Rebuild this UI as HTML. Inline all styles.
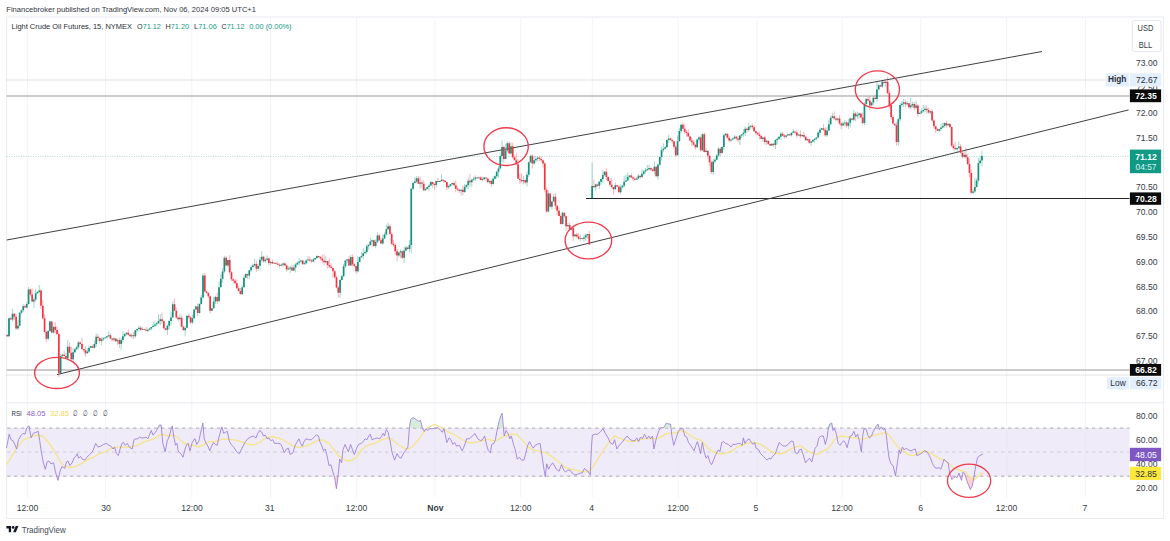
<!DOCTYPE html>
<html lang="en"><head><meta charset="utf-8"><title>Light Crude Oil Futures</title>
<style>html,body{margin:0;padding:0;background:#fff}body{width:1170px;height:541px;overflow:hidden}svg{display:block}</style>
</head><body>
<svg width="1170" height="541" viewBox="0 0 1170 541" font-family='"Liberation Sans", Arial, sans-serif'>
<rect width="1170" height="541" fill="#fff"/>
<text x="6.3" y="12.2" font-size="7.6" fill="#2f333d" textLength="249.7" lengthAdjust="spacingAndGlyphs">Financebroker published on TradingView.com, Nov 06, 2024 09:05 UTC+1</text>
<rect x="6.6" y="17.0" width="1156.9" height="501.5" fill="#fff" stroke="#e9ecf4" stroke-width="1"/>
<line x1="27.7" y1="17.5" x2="27.7" y2="497.5" stroke="#f3f3f6" stroke-width="1"/>
<line x1="105.6" y1="17.5" x2="105.6" y2="497.5" stroke="#f3f3f6" stroke-width="1"/>
<line x1="191.8" y1="17.5" x2="191.8" y2="497.5" stroke="#f3f3f6" stroke-width="1"/>
<line x1="270.5" y1="17.5" x2="270.5" y2="497.5" stroke="#f3f3f6" stroke-width="1"/>
<line x1="356.7" y1="17.5" x2="356.7" y2="497.5" stroke="#f3f3f6" stroke-width="1"/>
<line x1="434.9" y1="17.5" x2="434.9" y2="497.5" stroke="#f3f3f6" stroke-width="1"/>
<line x1="520.8" y1="17.5" x2="520.8" y2="497.5" stroke="#f3f3f6" stroke-width="1"/>
<line x1="592.3" y1="17.5" x2="592.3" y2="497.5" stroke="#f3f3f6" stroke-width="1"/>
<line x1="678.2" y1="17.5" x2="678.2" y2="497.5" stroke="#f3f3f6" stroke-width="1"/>
<line x1="756.9" y1="17.5" x2="756.9" y2="497.5" stroke="#f3f3f6" stroke-width="1"/>
<line x1="842.1" y1="17.5" x2="842.1" y2="497.5" stroke="#f3f3f6" stroke-width="1"/>
<line x1="920.8" y1="17.5" x2="920.8" y2="497.5" stroke="#f3f3f6" stroke-width="1"/>
<line x1="1006.7" y1="17.5" x2="1006.7" y2="497.5" stroke="#f3f3f6" stroke-width="1"/>
<line x1="1085.4" y1="17.5" x2="1085.4" y2="497.5" stroke="#f3f3f6" stroke-width="1"/>
<line x1="6.6" y1="402.8" x2="1163.5" y2="402.8" stroke="#e6e9f0" stroke-width="1"/>
<rect x="7.1" y="428.1" width="1122.4" height="48.2" fill="#efebf9"/>
<line x1="7.1" y1="428.1" x2="1129.5" y2="428.1" stroke="#8b8e97" stroke-opacity="1" stroke-width="0.75" stroke-dasharray="3.2 3.8"/>
<line x1="7.1" y1="452.1" x2="1129.5" y2="452.1" stroke="#8b8e97" stroke-opacity="0.45" stroke-width="0.75" stroke-dasharray="3.2 3.8"/>
<line x1="7.1" y1="476.2" x2="1129.5" y2="476.2" stroke="#8b8e97" stroke-opacity="1" stroke-width="0.75" stroke-dasharray="3.2 3.8"/>
<line x1="27.7" y1="428.1" x2="27.7" y2="476.2" stroke="#ebe8f4" stroke-width="1"/>
<line x1="105.6" y1="428.1" x2="105.6" y2="476.2" stroke="#ebe8f4" stroke-width="1"/>
<line x1="191.8" y1="428.1" x2="191.8" y2="476.2" stroke="#ebe8f4" stroke-width="1"/>
<line x1="270.5" y1="428.1" x2="270.5" y2="476.2" stroke="#ebe8f4" stroke-width="1"/>
<line x1="356.7" y1="428.1" x2="356.7" y2="476.2" stroke="#ebe8f4" stroke-width="1"/>
<line x1="434.9" y1="428.1" x2="434.9" y2="476.2" stroke="#ebe8f4" stroke-width="1"/>
<line x1="520.8" y1="428.1" x2="520.8" y2="476.2" stroke="#ebe8f4" stroke-width="1"/>
<line x1="592.3" y1="428.1" x2="592.3" y2="476.2" stroke="#ebe8f4" stroke-width="1"/>
<line x1="678.2" y1="428.1" x2="678.2" y2="476.2" stroke="#ebe8f4" stroke-width="1"/>
<line x1="756.9" y1="428.1" x2="756.9" y2="476.2" stroke="#ebe8f4" stroke-width="1"/>
<line x1="842.1" y1="428.1" x2="842.1" y2="476.2" stroke="#ebe8f4" stroke-width="1"/>
<line x1="920.8" y1="428.1" x2="920.8" y2="476.2" stroke="#ebe8f4" stroke-width="1"/>
<line x1="1006.7" y1="428.1" x2="1006.7" y2="476.2" stroke="#ebe8f4" stroke-width="1"/>
<line x1="1085.4" y1="428.1" x2="1085.4" y2="476.2" stroke="#ebe8f4" stroke-width="1"/>
<line x1="6.6" y1="80" x2="1129.5" y2="80" stroke="#b9bbc2" stroke-width="0.8" stroke-dasharray="1 1"/>
<line x1="6.6" y1="375" x2="1129.5" y2="375" stroke="#b9bbc2" stroke-width="0.8" stroke-dasharray="1 1"/>
<line x1="6.6" y1="156.5" x2="1129.5" y2="156.5" stroke="#b4e0d9" stroke-width="1" stroke-dasharray="1 1.4"/>
<line x1="6.6" y1="95.9" x2="1129.5" y2="95.9" stroke="#cbcbcc" stroke-width="2"/>
<line x1="6.6" y1="369.9" x2="1129.5" y2="369.9" stroke="#cbcbcc" stroke-width="2"/>
<line x1="586" y1="198.5" x2="1129.5" y2="198.5" stroke="#262626" stroke-width="1"/>
<line x1="6.7" y1="240" x2="1042" y2="51.5" stroke="#404040" stroke-width="1.0"/>
<line x1="57" y1="374.6" x2="1128.6" y2="109.9" stroke="#404040" stroke-width="1.0"/>
<defs><filter id="cb" x="-2%" y="-10%" width="104%" height="120%"><feGaussianBlur stdDeviation="0.3"/></filter></defs>
<g filter="url(#cb)">
<path d="M8.99 317.46V336.87M12.55 308.69V321.56M17.89 320.04V329.93M19.67 311.94V326.67M21.45 309.55V314.26M23.23 304.35V312.10M26.79 301.66V308.48M28.57 286.97V304.59M33.91 297.45V307.98M35.69 288.91V301.44M37.47 291.05V293.35M39.25 285.07V294.08M48.15 329.97V340.65M49.93 321.15V331.49M53.49 326.67V333.69M60.61 353.68V374.06M62.39 353.68V357.34M67.73 339.89V360.91M73.07 348.49V362.35M74.85 348.04V352.94M76.63 346.15V349.51M78.41 341.12V349.06M87.31 348.16V353.87M89.09 345.44V352.86M90.87 345.95V348.08M94.43 340.40V348.34M96.21 333.70V346.85M101.55 336.97V345.45M103.33 337.12V341.27M105.11 337.17V338.55M106.89 335.89V338.47M108.67 331.45V337.20M114.01 337.11V341.65M117.57 338.91V345.00M121.13 337.52V349.79M122.91 330.83V343.13M124.69 333.29V337.37M126.47 332.18V335.15M131.81 333.41V338.34M135.37 330.14V338.13M137.15 328.75V332.47M138.93 325.79V330.90M142.49 327.15V329.99M147.83 328.64V332.44M149.61 328.32V330.42M151.39 327.02V330.20M153.17 321.85V327.19M154.95 320.60V326.83M156.73 322.14V326.57M158.51 314.28V323.93M160.29 314.21V325.03M167.41 324.44V334.72M169.19 320.18V329.27M170.97 311.57V325.36M172.75 301.35V318.11M179.87 313.98V319.62M185.21 325.96V336.41M186.99 315.76V328.56M192.33 314.73V324.09M194.11 308.72V318.59M195.89 305.58V310.02M199.45 303.29V313.71M201.23 295.00V304.61M203.01 273.27V298.47M211.91 308.00V311.02M213.69 296.69V308.70M215.47 295.76V304.10M219.03 281.49V301.51M220.81 274.18V287.33M222.59 268.29V282.58M224.37 255.65V273.27M227.93 259.91V267.24M242.17 285.25V294.27M243.95 275.35V287.32M245.73 273.38V278.12M249.29 270.24V278.97M251.07 265.13V271.91M252.85 263.70V267.42M254.63 258.57V266.64M258.19 263.53V271.09M259.97 256.91V269.64M261.75 251.21V262.25M265.31 258.21V262.55M267.09 255.43V260.68M270.65 261.02V265.34M274.21 262.68V263.96M281.33 263.59V266.12M283.11 262.68V266.74M288.45 266.41V269.85M290.23 265.55V273.17M293.79 264.58V270.86M295.57 262.89V272.48M297.35 261.47V265.11M299.13 258.48V265.56M300.91 259.91V263.02M304.47 261.16V264.38M306.25 259.29V264.36M308.03 256.02V260.46M313.37 258.06V262.24M315.15 257.84V259.88M316.93 255.21V259.02M325.83 256.24V263.42M340.07 278.87V297.84M341.85 274.68V280.50M343.63 263.97V277.44M345.41 260.35V268.15M347.19 259.16V263.00M350.75 254.71V266.25M357.87 256.38V272.59M359.65 256.49V262.05M361.43 251.98V257.79M363.21 247.90V259.40M364.99 249.65V253.54M366.77 244.16V254.31M368.55 244.12V249.66M370.33 237.81V245.69M372.11 239.39V246.88M375.67 239.49V248.20M377.45 232.37V243.01M382.79 234.31V244.45M384.57 232.32V238.76M386.35 224.66V235.41M388.13 222.68V229.59M398.81 251.69V256.98M400.59 249.29V258.22M404.15 246.71V262.86M405.93 245.79V251.46M409.49 239.90V252.30M411.27 187.69V253.26M413.05 181.98V190.18M414.83 177.21V183.61M416.61 176.34V183.10M420.17 176.98V188.22M425.51 187.72V190.97M427.29 186.40V189.42M429.07 183.64V190.63M430.85 180.93V185.69M436.19 180.75V187.67M439.75 180.53V182.04M441.53 174.29V181.63M448.65 185.10V188.82M450.43 184.02V186.98M452.21 183.09V184.96M461.11 189.57V195.52M464.67 184.13V192.95M466.45 184.22V188.51M468.23 177.30V189.05M471.79 179.04V186.56M473.57 176.72V180.85M475.35 175.49V181.26M478.91 176.45V178.80M482.47 176.60V181.48M484.25 176.99V180.63M489.59 179.91V184.20M493.15 176.41V185.35M494.93 175.31V179.64M496.71 170.72V178.49M498.49 165.80V177.36M500.27 153.41V169.35M502.05 140.39V162.14M505.61 143.93V159.16M507.39 141.91V152.62M510.95 142.21V154.58M523.41 175.94V184.45M526.97 171.46V186.36M528.75 161.63V177.07M530.53 154.52V163.06M534.09 155.65V165.11M535.87 155.98V162.52M537.65 156.55V161.34M548.33 190.25V212.42M551.89 200.87V209.67M553.67 193.94V201.55M562.57 211.69V224.49M567.91 223.08V227.01M571.47 227.16V230.74M575.03 234.19V237.41M580.37 234.57V240.88M583.93 234.69V241.40M585.71 233.31V240.79M587.49 234.02V238.46" stroke="#12927c" stroke-width="0.7" stroke-opacity="0.55" fill="none"/>
<path d="M7.21 334.23V337.01M10.77 317.10V319.86M14.33 312.98V320.09M16.11 314.07V329.68M25.01 304.32V308.16M30.35 288.69V296.30M32.13 288.54V302.17M41.03 289.20V308.76M42.81 300.17V319.49M44.59 313.86V332.69M46.37 330.81V342.20M51.71 320.73V333.48M55.27 322.14V333.14M57.05 326.44V335.06M58.83 331.57V377.28M64.17 350.79V356.42M65.95 352.99V358.55M69.51 342.53V353.17M71.29 346.78V361.01M80.19 341.74V344.80M81.97 337.86V349.73M83.75 348.91V352.36M85.53 346.07V356.55M92.65 344.63V348.08M97.99 334.16V341.68M99.77 337.61V343.03M110.45 333.33V339.06M112.23 338.07V341.01M115.79 338.27V342.04M119.35 337.61V347.70M128.25 329.04V335.21M130.03 333.74V336.64M133.59 331.97V339.08M140.71 325.88V330.69M144.27 328.83V329.99M146.05 326.78V331.26M162.07 312.60V323.40M163.85 320.32V329.27M165.63 328.27V330.62M174.53 298.58V310.96M176.31 307.38V318.64M178.09 316.55V321.24M181.65 315.09V327.08M183.43 325.74V330.21M188.77 313.68V319.02M190.55 316.21V324.26M197.67 303.03V316.26M204.79 273.21V291.70M206.57 290.89V293.56M208.35 291.93V298.26M210.13 295.47V313.40M217.25 292.67V304.13M226.15 256.17V265.81M229.71 255.08V274.59M231.49 271.07V281.06M233.27 278.44V283.39M235.05 278.59V283.90M236.83 279.55V288.72M238.61 285.67V291.42M240.39 288.03V294.26M247.51 273.66V278.62M256.41 260.65V271.65M263.53 255.93V262.86M268.87 257.32V265.15M272.43 259.68V263.90M275.99 262.57V264.47M277.77 261.83V264.91M279.55 263.28V268.21M284.89 262.09V265.99M286.67 264.44V271.73M292.01 264.72V270.64M302.69 259.95V264.32M309.81 256.36V261.71M311.59 258.97V262.78M318.71 256.00V258.54M320.49 256.16V260.49M322.27 254.45V263.48M324.05 254.44V265.20M327.61 260.81V268.50M329.39 258.48V268.14M331.17 263.75V268.32M332.95 267.37V277.90M334.73 269.88V278.93M336.51 275.80V288.38M338.29 285.77V297.75M348.97 256.28V265.86M352.53 254.45V266.36M354.31 262.96V267.20M356.09 265.89V273.69M373.89 239.64V247.14M379.23 233.84V241.27M381.01 237.62V243.69M389.91 224.14V234.98M391.69 232.17V244.47M393.47 239.70V246.78M395.25 243.59V254.99M397.03 248.99V261.55M402.37 250.48V259.37M407.71 246.80V249.70M418.39 175.80V183.87M421.95 180.07V187.89M423.73 180.60V191.19M432.63 181.76V187.65M434.41 183.18V189.74M437.97 177.97V181.98M443.31 179.73V182.72M445.09 179.53V182.56M446.87 181.76V190.65M453.99 181.43V185.80M455.77 180.30V192.38M457.55 186.53V191.04M459.33 189.56V193.00M462.89 185.48V195.20M470.01 173.41V186.79M477.13 176.84V178.90M480.69 176.19V180.38M486.03 177.31V181.19M487.81 178.45V182.56M491.37 179.88V186.83M503.83 145.47V162.66M509.17 141.49V153.83M512.73 142.73V158.92M514.51 155.45V160.18M516.29 153.36V165.07M518.07 158.93V178.93M519.85 173.65V184.15M521.63 173.54V183.17M525.19 179.54V184.29M532.31 154.65V168.65M539.43 155.86V161.19M541.21 156.42V162.22M542.99 159.87V167.73M544.77 162.08V192.34M546.55 187.66V213.24M550.11 192.79V207.58M555.45 192.98V209.27M557.23 205.05V215.29M559.01 207.40V216.31M560.79 214.43V224.84M564.35 212.62V217.71M566.13 215.43V230.61M569.69 222.25V229.52M573.25 225.17V240.93M576.81 232.86V238.13M578.59 233.24V239.78M582.15 237.55V239.55M589.27 230.63V244.80" stroke="#f23645" stroke-width="0.7" stroke-opacity="0.55" fill="none"/>
<path d="M8.14 318.15h1.7v18.10h-1.7zM11.70 313.69h1.7v5.80h-1.7zM17.04 325.72h1.7v2.83h-1.7zM18.82 312.87h1.7v12.85h-1.7zM20.60 310.31h1.7v2.55h-1.7zM22.38 306.21h1.7v4.10h-1.7zM25.94 304.00h1.7v3.55h-1.7zM27.72 289.40h1.7v14.61h-1.7zM33.06 299.43h1.7v1.96h-1.7zM34.84 293.31h1.7v6.13h-1.7zM36.62 291.90h1.7v1.41h-1.7zM38.40 290.56h1.7v1.34h-1.7zM47.30 331.04h1.7v7.83h-1.7zM49.08 321.46h1.7v9.58h-1.7zM52.64 326.85h1.7v5.58h-1.7zM59.76 356.11h1.7v16.79h-1.7zM61.54 354.77h1.7v1.34h-1.7zM66.88 346.67h1.7v11.81h-1.7zM72.22 352.27h1.7v7.01h-1.7zM74.00 349.17h1.7v3.10h-1.7zM75.78 347.18h1.7v1.99h-1.7zM77.56 342.55h1.7v4.63h-1.7zM86.46 351.53h1.7v1.75h-1.7zM88.24 347.64h1.7v3.90h-1.7zM90.02 346.30h1.7v1.34h-1.7zM93.58 344.02h1.7v3.82h-1.7zM95.36 336.73h1.7v7.29h-1.7zM100.70 339.19h1.7v1.85h-1.7zM102.48 338.29h1.7v0.89h-1.7zM104.26 337.42h1.7v0.87h-1.7zM106.04 336.13h1.7v1.29h-1.7zM107.82 335.25h1.7v0.89h-1.7zM113.16 338.61h1.7v1.14h-1.7zM116.72 339.88h1.7v1.30h-1.7zM120.28 339.94h1.7v3.96h-1.7zM122.06 336.37h1.7v3.57h-1.7zM123.84 333.97h1.7v2.39h-1.7zM125.62 332.72h1.7v1.26h-1.7zM130.96 335.20h1.7v1.16h-1.7zM134.52 330.17h1.7v6.19h-1.7zM136.30 328.92h1.7v1.25h-1.7zM138.08 327.66h1.7v1.26h-1.7zM141.64 328.90h1.7v0.80h-1.7zM146.98 329.66h1.7v1.18h-1.7zM148.76 328.52h1.7v1.14h-1.7zM150.54 327.04h1.7v1.48h-1.7zM152.32 325.69h1.7v1.35h-1.7zM154.10 324.38h1.7v1.31h-1.7zM155.88 323.16h1.7v1.21h-1.7zM157.66 321.09h1.7v2.07h-1.7zM159.44 319.19h1.7v1.91h-1.7zM166.56 325.79h1.7v3.88h-1.7zM168.34 321.11h1.7v4.68h-1.7zM170.12 317.39h1.7v3.72h-1.7zM171.90 304.24h1.7v13.15h-1.7zM179.02 317.77h1.7v1.48h-1.7zM184.36 327.88h1.7v2.26h-1.7zM186.14 315.84h1.7v12.03h-1.7zM191.48 318.14h1.7v4.42h-1.7zM193.26 309.60h1.7v8.55h-1.7zM195.04 306.62h1.7v2.98h-1.7zM198.60 303.98h1.7v9.03h-1.7zM200.38 297.62h1.7v6.36h-1.7zM202.16 275.39h1.7v22.23h-1.7zM211.06 308.32h1.7v2.32h-1.7zM212.84 301.55h1.7v6.78h-1.7zM214.62 297.02h1.7v4.53h-1.7zM218.18 287.18h1.7v14.19h-1.7zM219.96 278.76h1.7v8.42h-1.7zM221.74 271.41h1.7v7.35h-1.7zM223.52 257.66h1.7v13.75h-1.7zM227.08 260.04h1.7v5.34h-1.7zM241.32 287.26h1.7v6.98h-1.7zM243.10 277.70h1.7v9.56h-1.7zM244.88 274.09h1.7v3.61h-1.7zM248.44 270.26h1.7v5.17h-1.7zM250.22 267.29h1.7v2.97h-1.7zM252.00 265.39h1.7v1.90h-1.7zM253.78 264.05h1.7v1.34h-1.7zM257.34 265.88h1.7v2.95h-1.7zM259.12 259.67h1.7v6.20h-1.7zM260.90 256.68h1.7v2.99h-1.7zM264.46 259.70h1.7v1.52h-1.7zM266.24 258.57h1.7v1.13h-1.7zM269.80 261.91h1.7v1.07h-1.7zM273.36 262.69h1.7v0.80h-1.7zM280.48 264.64h1.7v1.03h-1.7zM282.26 263.61h1.7v1.03h-1.7zM287.60 268.51h1.7v0.96h-1.7zM289.38 267.45h1.7v1.06h-1.7zM292.94 267.39h1.7v3.00h-1.7zM294.72 264.52h1.7v2.88h-1.7zM296.50 262.78h1.7v1.74h-1.7zM298.28 261.61h1.7v1.17h-1.7zM300.06 260.44h1.7v1.17h-1.7zM303.62 263.23h1.7v1.05h-1.7zM305.40 260.43h1.7v2.80h-1.7zM307.18 259.43h1.7v1.01h-1.7zM312.52 259.48h1.7v2.05h-1.7zM314.30 257.92h1.7v1.55h-1.7zM316.08 256.01h1.7v1.92h-1.7zM324.98 260.88h1.7v1.34h-1.7zM339.22 280.09h1.7v12.58h-1.7zM341.00 276.24h1.7v3.85h-1.7zM342.78 266.28h1.7v9.96h-1.7zM344.56 260.50h1.7v5.78h-1.7zM346.34 259.16h1.7v1.34h-1.7zM349.90 256.95h1.7v8.56h-1.7zM357.02 261.96h1.7v9.28h-1.7zM358.80 257.25h1.7v4.71h-1.7zM360.58 255.91h1.7v1.34h-1.7zM362.36 253.22h1.7v2.69h-1.7zM364.14 251.88h1.7v1.34h-1.7zM365.92 246.22h1.7v5.66h-1.7zM367.70 244.88h1.7v1.34h-1.7zM369.48 241.47h1.7v3.41h-1.7zM371.26 240.13h1.7v1.34h-1.7zM374.82 241.83h1.7v4.20h-1.7zM376.60 235.47h1.7v6.36h-1.7zM381.94 238.48h1.7v5.08h-1.7zM383.72 234.49h1.7v4.00h-1.7zM385.50 229.20h1.7v5.28h-1.7zM387.28 226.17h1.7v3.03h-1.7zM397.96 252.62h1.7v2.77h-1.7zM399.74 251.30h1.7v1.32h-1.7zM403.30 250.42h1.7v7.36h-1.7zM405.08 247.42h1.7v3.00h-1.7zM408.64 244.92h1.7v4.16h-1.7zM410.42 188.81h1.7v56.11h-1.7zM412.20 182.90h1.7v5.92h-1.7zM413.98 181.56h1.7v1.34h-1.7zM415.76 178.23h1.7v3.33h-1.7zM419.32 182.50h1.7v1.34h-1.7zM424.66 189.09h1.7v1.26h-1.7zM426.44 186.93h1.7v2.16h-1.7zM428.22 185.51h1.7v1.42h-1.7zM430.00 181.96h1.7v3.55h-1.7zM435.34 181.00h1.7v4.09h-1.7zM438.90 180.94h1.7v0.98h-1.7zM440.68 179.74h1.7v1.19h-1.7zM447.80 186.12h1.7v1.15h-1.7zM449.58 184.24h1.7v1.88h-1.7zM451.36 183.10h1.7v1.14h-1.7zM460.26 189.64h1.7v1.31h-1.7zM463.82 186.77h1.7v5.22h-1.7zM465.60 184.93h1.7v1.85h-1.7zM467.38 180.86h1.7v4.07h-1.7zM470.94 179.68h1.7v2.52h-1.7zM472.72 178.65h1.7v1.03h-1.7zM474.50 177.55h1.7v1.10h-1.7zM478.06 177.61h1.7v0.75h-1.7zM481.62 178.94h1.7v1.06h-1.7zM483.40 177.42h1.7v1.52h-1.7zM488.74 180.94h1.7v1.34h-1.7zM492.30 178.82h1.7v5.08h-1.7zM494.08 176.15h1.7v2.67h-1.7zM495.86 171.76h1.7v4.39h-1.7zM497.64 168.43h1.7v3.33h-1.7zM499.42 155.99h1.7v12.44h-1.7zM501.20 147.05h1.7v8.93h-1.7zM504.76 150.38h1.7v8.59h-1.7zM506.54 143.22h1.7v7.16h-1.7zM510.10 146.28h1.7v7.20h-1.7zM522.56 180.01h1.7v1.34h-1.7zM526.12 174.67h1.7v7.94h-1.7zM527.90 162.23h1.7v12.44h-1.7zM529.68 155.66h1.7v6.57h-1.7zM533.24 160.31h1.7v3.24h-1.7zM535.02 158.97h1.7v1.34h-1.7zM536.80 157.63h1.7v1.34h-1.7zM547.48 193.60h1.7v17.78h-1.7zM551.04 201.49h1.7v5.33h-1.7zM552.82 196.86h1.7v4.63h-1.7zM561.72 212.69h1.7v11.42h-1.7zM567.06 224.88h1.7v1.34h-1.7zM570.62 227.89h1.7v1.54h-1.7zM574.18 234.50h1.7v1.78h-1.7zM579.52 237.88h1.7v0.91h-1.7zM583.08 237.49h1.7v1.19h-1.7zM584.86 235.34h1.7v2.14h-1.7zM586.64 234.10h1.7v1.24h-1.7z" fill="#12927c"/>
<path d="M6.36 334.90h1.7v1.34h-1.7zM9.92 318.15h1.7v1.34h-1.7zM13.48 313.69h1.7v3.05h-1.7zM15.26 316.74h1.7v11.82h-1.7zM24.16 306.21h1.7v1.34h-1.7zM29.50 289.40h1.7v5.19h-1.7zM31.28 294.58h1.7v6.81h-1.7zM40.18 290.56h1.7v15.14h-1.7zM41.96 305.70h1.7v12.53h-1.7zM43.74 318.23h1.7v13.88h-1.7zM45.52 332.11h1.7v6.76h-1.7zM50.86 321.46h1.7v10.96h-1.7zM54.42 326.85h1.7v3.19h-1.7zM56.20 330.04h1.7v4.06h-1.7zM57.98 334.10h1.7v38.80h-1.7zM63.32 354.77h1.7v1.34h-1.7zM65.10 356.11h1.7v2.37h-1.7zM68.66 346.67h1.7v6.18h-1.7zM70.44 352.85h1.7v6.43h-1.7zM79.34 342.55h1.7v1.34h-1.7zM81.12 343.89h1.7v5.06h-1.7zM82.90 348.95h1.7v1.29h-1.7zM84.68 350.24h1.7v3.05h-1.7zM91.80 346.30h1.7v1.54h-1.7zM97.14 336.73h1.7v1.34h-1.7zM98.92 338.07h1.7v2.97h-1.7zM109.60 335.25h1.7v3.36h-1.7zM111.38 338.61h1.7v1.14h-1.7zM114.94 338.61h1.7v2.58h-1.7zM118.50 339.88h1.7v4.01h-1.7zM127.40 332.72h1.7v2.12h-1.7zM129.18 334.84h1.7v1.52h-1.7zM132.74 335.20h1.7v1.16h-1.7zM139.86 327.66h1.7v2.04h-1.7zM143.42 328.90h1.7v0.97h-1.7zM145.20 329.87h1.7v0.97h-1.7zM161.22 319.19h1.7v2.13h-1.7zM163.00 321.32h1.7v7.02h-1.7zM164.78 328.34h1.7v1.34h-1.7zM173.68 304.24h1.7v6.42h-1.7zM175.46 310.66h1.7v6.76h-1.7zM177.24 317.43h1.7v1.82h-1.7zM180.80 317.77h1.7v9.06h-1.7zM182.58 326.83h1.7v3.31h-1.7zM187.92 315.84h1.7v1.34h-1.7zM189.70 317.18h1.7v5.38h-1.7zM196.82 306.62h1.7v6.39h-1.7zM203.94 275.39h1.7v16.01h-1.7zM205.72 291.40h1.7v1.50h-1.7zM207.50 292.90h1.7v3.45h-1.7zM209.28 296.35h1.7v14.29h-1.7zM216.40 297.02h1.7v4.34h-1.7zM225.30 257.66h1.7v7.72h-1.7zM228.86 260.04h1.7v12.20h-1.7zM230.64 272.24h1.7v7.09h-1.7zM232.42 279.33h1.7v1.48h-1.7zM234.20 280.80h1.7v2.46h-1.7zM235.98 283.27h1.7v4.93h-1.7zM237.76 288.19h1.7v2.78h-1.7zM239.54 290.98h1.7v3.27h-1.7zM246.66 274.09h1.7v1.34h-1.7zM255.56 264.05h1.7v4.78h-1.7zM262.68 256.68h1.7v4.53h-1.7zM268.02 258.57h1.7v4.42h-1.7zM271.58 261.91h1.7v1.58h-1.7zM275.14 262.69h1.7v1.04h-1.7zM276.92 263.73h1.7v0.94h-1.7zM278.70 264.67h1.7v1.00h-1.7zM284.04 263.61h1.7v1.89h-1.7zM285.82 265.50h1.7v3.97h-1.7zM291.16 267.45h1.7v2.94h-1.7zM301.84 260.44h1.7v3.85h-1.7zM308.96 259.43h1.7v1.05h-1.7zM310.74 260.47h1.7v1.05h-1.7zM317.86 256.01h1.7v1.11h-1.7zM319.64 257.11h1.7v1.44h-1.7zM321.42 258.55h1.7v1.99h-1.7zM323.20 260.54h1.7v1.68h-1.7zM326.76 260.88h1.7v4.14h-1.7zM328.54 265.02h1.7v1.44h-1.7zM330.32 266.46h1.7v1.47h-1.7zM332.10 267.93h1.7v3.36h-1.7zM333.88 271.29h1.7v5.94h-1.7zM335.66 277.23h1.7v10.25h-1.7zM337.44 287.48h1.7v5.19h-1.7zM348.12 259.16h1.7v6.34h-1.7zM351.68 256.95h1.7v7.38h-1.7zM353.46 264.33h1.7v1.60h-1.7zM355.24 265.92h1.7v5.32h-1.7zM373.04 240.13h1.7v5.90h-1.7zM378.38 235.47h1.7v4.69h-1.7zM380.16 240.16h1.7v3.40h-1.7zM389.06 226.17h1.7v7.92h-1.7zM390.84 234.08h1.7v9.60h-1.7zM392.62 243.69h1.7v1.34h-1.7zM394.40 245.03h1.7v6.17h-1.7zM396.18 251.20h1.7v4.19h-1.7zM401.52 251.30h1.7v6.48h-1.7zM406.86 247.42h1.7v1.66h-1.7zM417.54 178.23h1.7v5.61h-1.7zM421.10 182.50h1.7v1.34h-1.7zM422.88 183.84h1.7v6.51h-1.7zM431.78 181.96h1.7v2.03h-1.7zM433.56 183.99h1.7v1.10h-1.7zM437.12 181.00h1.7v0.92h-1.7zM442.46 179.74h1.7v1.07h-1.7zM444.24 180.81h1.7v1.25h-1.7zM446.02 182.06h1.7v5.22h-1.7zM453.14 183.10h1.7v2.23h-1.7zM454.92 185.33h1.7v3.39h-1.7zM456.70 188.72h1.7v1.09h-1.7zM458.48 189.81h1.7v1.15h-1.7zM462.04 189.64h1.7v2.36h-1.7zM469.16 180.86h1.7v1.34h-1.7zM476.28 177.55h1.7v0.81h-1.7zM479.84 177.61h1.7v2.39h-1.7zM485.18 177.42h1.7v1.13h-1.7zM486.96 178.55h1.7v3.73h-1.7zM490.52 180.94h1.7v2.96h-1.7zM502.98 147.05h1.7v11.92h-1.7zM508.32 143.22h1.7v10.26h-1.7zM511.88 146.28h1.7v10.85h-1.7zM513.66 157.13h1.7v3.00h-1.7zM515.44 160.14h1.7v4.21h-1.7zM517.22 164.34h1.7v14.33h-1.7zM519.00 178.67h1.7v1.34h-1.7zM520.78 180.01h1.7v1.34h-1.7zM524.34 180.01h1.7v2.61h-1.7zM531.46 155.66h1.7v7.89h-1.7zM538.58 157.63h1.7v1.34h-1.7zM540.36 158.97h1.7v1.34h-1.7zM542.14 160.31h1.7v3.22h-1.7zM543.92 163.53h1.7v26.34h-1.7zM545.70 189.87h1.7v21.52h-1.7zM549.26 193.60h1.7v13.22h-1.7zM554.60 196.86h1.7v8.81h-1.7zM556.38 205.67h1.7v5.20h-1.7zM558.16 210.87h1.7v5.12h-1.7zM559.94 215.99h1.7v8.12h-1.7zM563.50 212.69h1.7v3.60h-1.7zM565.28 216.29h1.7v9.92h-1.7zM568.84 224.88h1.7v4.56h-1.7zM572.40 227.89h1.7v8.38h-1.7zM575.96 234.50h1.7v2.10h-1.7zM577.74 236.60h1.7v2.20h-1.7zM581.30 237.88h1.7v0.79h-1.7zM588.42 234.10h1.7v10.30h-1.7z" fill="#f23645"/>

<path d="M592.13 162.20V198.60M595.69 183.78V190.83M599.25 181.04V188.91M601.03 177.83V184.92M602.81 170.46V183.28M604.59 170.90V176.00M615.27 182.23V189.77M620.61 184.37V194.07M622.39 184.63V189.00M624.17 175.79V187.33M625.95 174.67V181.98M627.73 172.28V181.32M629.51 175.22V178.21M636.63 176.83V179.90M638.41 174.00V178.89M641.97 169.39V178.24M643.75 169.74V175.04M645.53 167.81V173.66M647.31 164.97V171.00M649.09 164.53V170.45M654.43 161.44V174.39M657.99 163.15V179.54M659.77 156.94V165.54M661.55 146.56V160.41M663.33 143.31V152.13M665.11 145.94V149.23M666.89 139.31V147.70M668.67 134.85V143.29M677.57 135.52V155.43M679.35 128.05V141.85M681.13 124.33V133.30M697.15 138.60V147.90M698.93 135.71V143.43M702.49 133.29V150.99M706.05 147.77V152.06M713.17 159.01V174.98M714.95 158.13V163.73M716.73 154.06V160.29M718.51 147.16V156.61M722.07 146.08V154.27M723.85 133.50V149.67M725.63 132.90V136.57M730.97 139.33V142.38M732.75 137.47V140.26M734.53 134.83V138.90M739.87 135.12V145.05M741.65 134.18V137.91M743.43 129.08V137.05M745.21 126.13V135.78M748.77 122.89V131.82M750.55 125.66V128.69M763.01 136.85V141.76M766.57 139.72V145.12M771.91 143.41V145.57M775.47 139.24V149.01M777.25 137.66V144.25M779.03 136.29V139.94M780.81 132.28V139.75M786.15 134.71V138.27M787.93 133.60V135.66M791.49 132.65V136.52M793.27 128.99V132.73M798.61 133.84V136.15M802.17 134.68V136.54M807.51 138.39V141.05M811.07 140.65V146.03M812.85 139.07V142.82M814.63 138.62V142.72M816.41 137.24V140.54M818.19 131.58V137.48M819.97 127.50V134.84M821.75 128.08V129.86M827.09 126.80V136.74M828.87 120.21V131.19M830.65 115.60V125.16M832.43 112.77V118.23M837.77 118.20V121.22M843.11 121.83V125.47M844.89 119.92V126.50M848.45 119.19V128.96M850.23 117.33V127.63M853.79 109.87V121.31M857.35 111.69V118.94M859.13 112.55V118.42M864.47 102.46V125.02M866.25 98.20V107.09M871.59 101.64V105.82M873.37 96.23V105.36M876.93 81.71V101.62M878.71 84.01V90.09M882.27 81.03V87.66M885.83 81.41V86.92M898.29 117.47V145.63M900.07 102.81V121.43M901.85 100.98V107.37M903.63 99.00V107.04M907.19 101.13V105.68M910.75 97.67V109.63M912.53 101.96V107.95M916.09 100.66V109.61M919.65 112.69V114.01M921.43 108.24V114.03M923.21 105.10V112.41M924.99 106.05V112.41M930.33 110.58V114.06M939.23 128.74V132.24M941.01 124.14V130.99M942.79 122.59V127.80M944.57 122.43V127.38M948.13 123.41V125.88M957.03 147.53V153.44M958.81 141.64V149.27M964.15 151.06V157.80M973.05 188.85V194.40M974.83 177.95V193.02M976.61 178.24V187.47M978.39 157.65V183.49M980.17 155.54V164.22M981.95 150.62V166.19" stroke="#12927c" stroke-width="0.7" stroke-opacity="0.55" fill="none"/>
<path d="M593.91 179.64V187.75M597.47 183.53V186.65M606.37 168.08V179.95M608.15 176.86V181.25M609.93 178.31V185.51M611.71 178.03V188.87M613.49 186.84V194.52M617.05 185.14V186.90M618.83 184.99V192.75M631.29 173.48V177.79M633.07 176.17V181.45M634.85 176.69V180.27M640.19 175.62V178.55M650.87 167.37V171.16M652.65 168.17V171.65M656.21 166.39V176.79M670.45 137.47V140.56M672.23 138.59V143.56M674.01 141.15V148.74M675.79 144.99V156.89M682.91 122.70V129.25M684.69 124.18V134.10M686.47 130.17V136.93M688.25 129.53V136.67M690.03 136.04V141.94M691.81 137.22V145.98M693.59 139.94V145.51M695.37 143.73V149.84M700.71 135.56V152.27M704.27 132.26V152.30M707.83 150.36V158.32M709.61 155.50V166.22M711.39 160.63V173.76M720.29 147.33V156.69M727.41 133.63V138.90M729.19 135.44V141.99M736.31 135.74V140.65M738.09 135.87V142.33M746.99 127.36V132.97M752.33 123.67V128.72M754.11 125.46V131.86M755.89 130.68V135.24M757.67 132.05V134.56M759.45 131.67V139.48M761.23 134.53V139.06M764.79 135.85V144.53M768.35 140.63V144.88M770.13 143.54V145.80M773.69 142.85V147.22M782.59 132.07V136.19M784.37 133.73V138.89M789.71 133.59V135.98M795.05 130.93V134.19M796.83 130.45V137.57M800.39 130.30V138.47M803.95 131.87V137.65M805.73 135.85V140.80M809.29 138.78V143.78M823.53 124.21V131.02M825.31 127.44V136.96M834.21 111.55V119.27M835.99 116.77V121.31M839.55 115.08V125.02M841.33 122.26V129.29M846.67 121.37V127.64M852.01 118.29V119.99M855.57 111.98V121.13M860.91 113.48V118.73M862.69 112.57V124.05M868.03 96.76V101.42M869.81 96.02V109.93M875.15 94.73V99.24M880.49 84.89V86.88M884.05 80.57V83.91M887.61 76.73V94.35M889.39 90.07V107.97M891.17 101.62V119.64M892.95 114.80V124.39M894.73 123.53V125.68M896.51 122.09V145.62M905.41 99.69V106.90M908.97 102.78V108.75M914.31 101.94V110.59M917.87 103.98V116.50M926.77 105.44V113.58M928.55 107.67V113.66M932.11 109.18V121.31M933.89 119.10V128.74M935.67 126.16V133.18M937.45 127.90V130.99M946.35 120.59V127.66M949.91 122.95V127.88M951.69 126.65V147.13M953.47 143.72V150.33M955.25 141.90V149.54M960.59 144.24V153.20M962.37 152.20V158.28M965.93 147.67V158.84M967.71 153.59V165.33M969.49 158.51V177.24M971.27 169.11V194.12" stroke="#f23645" stroke-width="0.7" stroke-opacity="0.55" fill="none"/>
<path d="M591.28 186.00h1.7v12.00h-1.7zM594.84 184.40h1.7v2.94h-1.7zM598.40 181.68h1.7v4.07h-1.7zM600.18 179.02h1.7v2.66h-1.7zM601.96 175.12h1.7v3.90h-1.7zM603.74 171.70h1.7v3.42h-1.7zM614.42 185.23h1.7v4.06h-1.7zM619.76 187.15h1.7v5.11h-1.7zM621.54 185.81h1.7v1.34h-1.7zM623.32 181.80h1.7v4.01h-1.7zM625.10 180.46h1.7v1.34h-1.7zM626.88 177.10h1.7v3.35h-1.7zM628.66 175.43h1.7v1.67h-1.7zM635.78 178.58h1.7v1.11h-1.7zM637.56 175.74h1.7v2.83h-1.7zM641.12 173.73h1.7v3.24h-1.7zM642.90 171.47h1.7v2.26h-1.7zM644.68 170.33h1.7v1.13h-1.7zM646.46 169.24h1.7v1.09h-1.7zM648.24 168.11h1.7v1.14h-1.7zM653.58 166.85h1.7v4.09h-1.7zM657.14 164.65h1.7v11.68h-1.7zM658.92 157.04h1.7v7.62h-1.7zM660.70 150.17h1.7v6.86h-1.7zM662.48 148.83h1.7v1.34h-1.7zM664.26 147.29h1.7v1.55h-1.7zM666.04 139.92h1.7v7.37h-1.7zM667.82 138.58h1.7v1.34h-1.7zM676.72 141.37h1.7v13.95h-1.7zM678.50 131.09h1.7v10.28h-1.7zM680.28 124.73h1.7v6.36h-1.7zM696.30 139.41h1.7v7.74h-1.7zM698.08 137.43h1.7v1.98h-1.7zM701.64 134.27h1.7v16.07h-1.7zM705.20 150.70h1.7v1.34h-1.7zM712.32 161.45h1.7v10.56h-1.7zM714.10 159.69h1.7v1.76h-1.7zM715.88 155.43h1.7v4.26h-1.7zM717.66 148.82h1.7v6.61h-1.7zM721.22 147.07h1.7v6.04h-1.7zM723.00 135.19h1.7v11.88h-1.7zM724.78 133.82h1.7v1.37h-1.7zM730.12 139.56h1.7v1.02h-1.7zM731.90 138.56h1.7v1.00h-1.7zM733.68 136.75h1.7v1.81h-1.7zM739.02 135.49h1.7v4.28h-1.7zM740.80 134.19h1.7v1.30h-1.7zM742.58 132.85h1.7v1.34h-1.7zM744.36 128.85h1.7v4.01h-1.7zM747.92 126.75h1.7v3.35h-1.7zM749.70 125.66h1.7v1.09h-1.7zM762.16 137.58h1.7v1.34h-1.7zM765.72 140.73h1.7v1.22h-1.7zM771.06 143.74h1.7v1.64h-1.7zM774.62 140.03h1.7v5.05h-1.7zM776.40 138.70h1.7v1.33h-1.7zM778.18 136.67h1.7v2.03h-1.7zM779.96 133.78h1.7v2.89h-1.7zM785.30 135.48h1.7v1.38h-1.7zM787.08 134.33h1.7v1.15h-1.7zM790.64 132.69h1.7v2.48h-1.7zM792.42 131.61h1.7v1.08h-1.7zM797.76 134.38h1.7v1.20h-1.7zM801.32 135.00h1.7v1.25h-1.7zM806.66 139.13h1.7v1.07h-1.7zM810.22 141.46h1.7v1.27h-1.7zM812.00 140.12h1.7v1.34h-1.7zM813.78 138.78h1.7v1.34h-1.7zM815.56 137.44h1.7v1.34h-1.7zM817.34 132.62h1.7v4.82h-1.7zM819.12 129.65h1.7v2.98h-1.7zM820.90 128.31h1.7v1.34h-1.7zM826.24 130.60h1.7v4.58h-1.7zM828.02 124.26h1.7v6.34h-1.7zM829.80 118.04h1.7v6.21h-1.7zM831.58 116.21h1.7v1.83h-1.7zM836.92 118.45h1.7v1.25h-1.7zM842.26 123.56h1.7v1.87h-1.7zM844.04 122.40h1.7v1.16h-1.7zM847.60 122.67h1.7v3.12h-1.7zM849.38 118.40h1.7v4.27h-1.7zM852.94 113.49h1.7v6.25h-1.7zM856.50 114.93h1.7v1.34h-1.7zM858.28 113.59h1.7v1.34h-1.7zM863.62 104.06h1.7v19.03h-1.7zM865.40 99.08h1.7v4.98h-1.7zM870.74 102.41h1.7v3.13h-1.7zM872.52 97.69h1.7v4.73h-1.7zM876.08 89.50h1.7v9.52h-1.7zM877.86 85.19h1.7v4.31h-1.7zM881.42 81.65h1.7v4.89h-1.7zM884.98 81.65h1.7v1.34h-1.7zM897.44 119.29h1.7v22.71h-1.7zM899.22 105.03h1.7v14.26h-1.7zM901.00 103.63h1.7v1.41h-1.7zM902.78 102.29h1.7v1.34h-1.7zM906.34 103.21h1.7v1.00h-1.7zM909.90 105.19h1.7v2.01h-1.7zM911.68 103.90h1.7v1.30h-1.7zM915.24 105.38h1.7v2.39h-1.7zM918.80 112.72h1.7v1.17h-1.7zM920.58 111.31h1.7v1.41h-1.7zM922.36 110.07h1.7v1.24h-1.7zM924.14 108.68h1.7v1.40h-1.7zM929.48 111.17h1.7v1.34h-1.7zM938.38 129.00h1.7v1.74h-1.7zM940.16 127.39h1.7v1.60h-1.7zM941.94 125.95h1.7v1.44h-1.7zM943.72 123.11h1.7v2.85h-1.7zM947.28 123.95h1.7v1.34h-1.7zM956.18 147.90h1.7v1.34h-1.7zM957.96 146.48h1.7v1.43h-1.7zM963.30 154.70h1.7v2.13h-1.7zM972.20 191.42h1.7v1.34h-1.7zM973.98 187.02h1.7v4.40h-1.7zM975.76 180.48h1.7v6.54h-1.7zM977.54 162.98h1.7v17.50h-1.7zM979.32 160.58h1.7v2.40h-1.7zM981.10 155.90h1.7v4.68h-1.7z" fill="#12927c"/>
<path d="M593.06 186.00h1.7v1.34h-1.7zM596.62 184.40h1.7v1.34h-1.7zM605.52 171.70h1.7v5.20h-1.7zM607.30 176.90h1.7v3.98h-1.7zM609.08 180.88h1.7v3.77h-1.7zM610.86 184.65h1.7v2.24h-1.7zM612.64 186.90h1.7v2.39h-1.7zM616.20 185.23h1.7v1.31h-1.7zM617.98 186.54h1.7v5.73h-1.7zM630.44 175.43h1.7v1.96h-1.7zM632.22 177.39h1.7v1.31h-1.7zM634.00 178.70h1.7v0.99h-1.7zM639.34 175.74h1.7v1.23h-1.7zM650.02 168.11h1.7v1.49h-1.7zM651.80 169.59h1.7v1.34h-1.7zM655.36 166.85h1.7v9.49h-1.7zM669.60 138.58h1.7v1.34h-1.7zM671.38 139.92h1.7v1.34h-1.7zM673.16 141.26h1.7v5.52h-1.7zM674.94 146.77h1.7v8.55h-1.7zM682.06 124.73h1.7v4.12h-1.7zM683.84 128.85h1.7v2.82h-1.7zM685.62 131.68h1.7v1.34h-1.7zM687.40 133.02h1.7v3.57h-1.7zM689.18 136.59h1.7v3.87h-1.7zM690.96 140.46h1.7v1.78h-1.7zM692.74 142.24h1.7v2.59h-1.7zM694.52 144.83h1.7v2.32h-1.7zM699.86 137.43h1.7v12.91h-1.7zM703.42 134.27h1.7v17.78h-1.7zM706.98 150.70h1.7v4.94h-1.7zM708.76 155.64h1.7v6.53h-1.7zM710.54 162.18h1.7v9.84h-1.7zM719.44 148.82h1.7v4.29h-1.7zM726.56 133.82h1.7v3.97h-1.7zM728.34 137.79h1.7v2.80h-1.7zM735.46 136.75h1.7v1.68h-1.7zM737.24 138.43h1.7v1.34h-1.7zM746.14 128.85h1.7v1.25h-1.7zM751.48 125.66h1.7v1.53h-1.7zM753.26 127.19h1.7v4.02h-1.7zM755.04 131.20h1.7v1.68h-1.7zM756.82 132.88h1.7v1.57h-1.7zM758.60 134.45h1.7v1.45h-1.7zM760.38 135.90h1.7v3.02h-1.7zM763.94 137.58h1.7v4.37h-1.7zM767.50 140.73h1.7v3.22h-1.7zM769.28 143.94h1.7v1.44h-1.7zM772.84 143.74h1.7v1.34h-1.7zM781.74 133.78h1.7v1.85h-1.7zM783.52 135.62h1.7v1.24h-1.7zM788.86 134.33h1.7v0.84h-1.7zM794.20 131.61h1.7v0.94h-1.7zM795.98 132.56h1.7v3.02h-1.7zM799.54 134.38h1.7v1.87h-1.7zM803.10 135.00h1.7v1.85h-1.7zM804.88 136.85h1.7v3.34h-1.7zM808.44 139.13h1.7v3.61h-1.7zM822.68 128.31h1.7v1.34h-1.7zM824.46 129.65h1.7v5.52h-1.7zM833.36 116.21h1.7v2.24h-1.7zM835.14 118.46h1.7v1.25h-1.7zM838.70 118.45h1.7v5.13h-1.7zM840.48 123.58h1.7v1.86h-1.7zM845.82 122.40h1.7v3.38h-1.7zM851.16 118.40h1.7v1.34h-1.7zM854.72 113.49h1.7v2.78h-1.7zM860.06 113.59h1.7v4.02h-1.7zM861.84 117.61h1.7v5.48h-1.7zM867.18 99.08h1.7v1.34h-1.7zM868.96 100.42h1.7v5.12h-1.7zM874.30 97.69h1.7v1.34h-1.7zM879.64 85.19h1.7v1.34h-1.7zM883.20 81.65h1.7v1.34h-1.7zM886.76 81.65h1.7v11.41h-1.7zM888.54 93.05h1.7v11.83h-1.7zM890.32 104.88h1.7v12.01h-1.7zM892.10 116.89h1.7v6.73h-1.7zM893.88 123.63h1.7v1.69h-1.7zM895.66 125.32h1.7v16.68h-1.7zM904.56 102.29h1.7v1.92h-1.7zM908.12 103.21h1.7v3.99h-1.7zM913.46 103.90h1.7v3.88h-1.7zM917.02 105.38h1.7v8.51h-1.7zM925.92 108.68h1.7v1.37h-1.7zM927.70 110.05h1.7v2.46h-1.7zM931.26 111.17h1.7v9.41h-1.7zM933.04 120.58h1.7v5.73h-1.7zM934.82 126.31h1.7v2.84h-1.7zM936.60 129.15h1.7v1.59h-1.7zM945.50 123.11h1.7v2.18h-1.7zM949.06 123.95h1.7v3.11h-1.7zM950.84 127.06h1.7v18.70h-1.7zM952.62 145.76h1.7v2.14h-1.7zM954.40 147.90h1.7v1.34h-1.7zM959.74 146.48h1.7v6.30h-1.7zM961.52 152.78h1.7v4.05h-1.7zM965.08 154.70h1.7v2.62h-1.7zM966.86 157.32h1.7v6.73h-1.7zM968.64 164.05h1.7v9.00h-1.7zM970.42 173.05h1.7v19.70h-1.7z" fill="#f23645"/>

</g>
<ellipse cx="57" cy="372.9" rx="22.4" ry="15.6" fill="none" stroke="#ee3a4c" stroke-width="1.35"/>
<ellipse cx="506.1" cy="146.6" rx="22.2" ry="18.9" fill="none" stroke="#ee3a4c" stroke-width="1.35"/>
<ellipse cx="588.4" cy="240.5" rx="23.3" ry="18.4" fill="none" stroke="#ee3a4c" stroke-width="1.35"/>
<ellipse cx="877.4" cy="89.6" rx="22.1" ry="18.75" fill="none" stroke="#ee3a4c" stroke-width="1.35"/>
<defs><clipPath id="ob"><rect x="0" y="400" width="1170" height="28.05"/></clipPath><clipPath id="os"><rect x="0" y="476.25" width="1170" height="40"/></clipPath></defs>
<polygon clip-path="url(#ob)" fill="#c6e6cc" fill-opacity="0.7" points="6.5,448.1 9.2,434.2 11.1,439.7 12.9,440.7 14.8,444.4 16.6,449.0 18.5,439.7 21.3,435.1 23.1,433.3 25.0,434.2 26.8,427.7 29.0,425.9 31.1,437.9 33.3,433.3 36.0,432.3 38.3,431.4 39.7,440.7 41.6,453.6 43.4,462.8 45.3,469.3 47.1,461.9 49.0,461.0 50.8,463.8 53.6,462.8 55.5,472.1 57.9,480.4 60.1,471.2 61.9,466.5 64.7,468.4 66.5,461.9 68.0,461.0 69.9,465.6 72.1,462.8 73.9,458.2 75.8,456.4 77.3,453.6 78.6,458.2 80.4,456.4 82.3,459.1 84.7,460.1 86.9,457.3 89.6,454.5 92.4,451.8 94.3,447.1 95.7,443.4 98.0,447.1 100.7,446.2 103.5,444.4 106.3,443.4 109.1,445.3 110.9,446.2 113.1,449.0 114.6,447.1 116.5,453.6 118.3,455.5 120.1,449.0 122.0,443.4 123.5,442.5 125.3,445.3 127.2,443.4 129.4,447.1 132.2,449.0 134.0,439.7 135.9,438.8 137.7,438.8 139.6,437.0 141.4,437.9 144.2,437.9 146.0,437.0 147.9,438.8 149.7,434.2 151.2,430.5 153.0,435.1 155.3,432.3 157.1,429.6 159.3,425.0 161.2,425.0 162.7,442.5 165.1,451.8 167.3,440.7 169.1,437.0 171.0,429.6 172.3,425.9 173.8,437.0 175.6,445.3 176.9,443.4 178.4,451.8 180.8,453.6 183.0,457.3 184.8,449.9 186.7,444.4 188.2,443.4 190.0,450.8 192.2,442.5 194.5,438.8 195.0,438.8 196.8,444.4 198.7,441.6 200.5,433.3 202.8,423.1 204.2,438.8 206.1,443.4 207.9,446.2 209.8,450.8 211.6,446.2 213.5,442.5 215.3,444.4 217.2,445.3 219.0,437.0 221.8,426.8 223.7,433.3 225.5,432.3 227.3,431.4 229.2,440.7 231.0,444.4 233.8,447.1 236.6,451.8 239.4,453.6 242.1,448.1 244.9,442.5 247.7,438.8 250.5,437.0 253.2,436.0 256.0,437.9 257.8,433.3 259.7,430.5 261.9,432.3 263.4,436.0 265.2,435.1 267.1,438.8 268.9,437.9 270.8,440.7 272.6,439.7 274.5,443.4 277.3,443.4 280.0,443.4 281.9,446.2 284.3,452.7 286.5,449.0 288.3,448.1 290.2,454.5 293.0,452.7 294.8,446.2 296.7,442.5 298.9,438.8 300.7,443.4 302.2,446.2 304.1,441.6 305.9,438.8 308.7,439.7 311.5,439.7 314.2,437.0 316.4,434.8 318.5,436.0 319.8,441.6 321.6,445.3 323.5,450.8 325.3,449.0 327.2,456.4 329.0,465.6 330.9,464.7 332.7,471.2 334.6,477.6 336.4,488.7 338.3,473.9 339.7,459.1 341.6,462.8 342.9,449.9 345.1,444.4 346.6,448.1 348.4,451.8 350.6,444.4 352.5,449.9 354.3,454.5 356.7,448.1 358.6,444.4 361.4,443.4 363.2,441.6 365.1,438.8 366.9,439.7 368.8,436.0 370.2,434.2 372.1,439.7 374.3,438.8 377.1,437.9 379.8,438.8 381.7,436.0 383.2,433.3 384.5,436.0 386.3,429.6 388.2,432.3 389.5,439.7 390.0,439.7 391.8,451.8 394.6,460.1 397.0,453.6 399.2,457.3 401.1,458.2 403.9,452.7 406.6,449.0 407.9,447.1 409.4,427.7 410.7,419.4 413.1,417.6 415.9,419.4 418.7,421.3 420.5,420.3 422.3,427.7 424.2,431.4 426.0,428.7 427.9,430.5 429.7,428.7 432.5,428.7 435.3,428.1 438.1,427.7 440.8,430.5 442.3,432.3 444.0,428.7 445.5,436.0 446.9,442.5 449.1,437.9 451.0,439.7 452.8,444.4 454.7,442.5 456.5,446.2 459.3,445.3 462.1,450.8 463.9,447.1 466.7,438.8 469.5,438.8 472.3,436.0 475.0,433.6 477.8,438.8 480.6,440.7 482.4,439.7 484.6,436.0 486.5,444.4 488.3,450.8 490.4,452.7 491.7,444.4 493.9,443.4 495.4,439.7 497.2,429.6 499.1,421.3 500.9,415.7 502.2,413.3 503.1,424.0 504.2,436.0 506.1,430.5 508.3,434.2 509.8,438.8 511.3,436.0 513.5,444.4 515.3,449.9 517.2,459.1 519.4,457.3 521.6,460.1 524.0,460.1 525.9,452.7 527.7,445.3 529.6,441.6 531.4,445.3 533.3,448.1 535.1,445.3 537.9,444.0 540.1,443.4 541.9,455.5 543.8,468.4 545.3,476.7 546.7,463.8 548.6,469.3 550.4,465.6 552.7,462.8 554.9,466.5 556.4,469.3 559.1,471.2 561.5,464.7 563.8,470.2 565.6,472.1 567.4,470.2 570.2,470.2 572.1,473.0 574.8,474.9 577.6,474.3 580.4,473.0 582.2,473.0 584.5,468.4 585.0,469.3 587.8,471.2 590.2,474.9 591.5,446.2 592.4,435.1 595.2,434.2 597.9,434.2 600.7,431.4 603.1,428.7 605.3,433.3 608.1,437.9 610.0,442.5 612.7,444.4 614.6,439.7 616.8,449.0 619.2,445.3 622.0,442.5 624.7,438.8 627.1,436.0 629.4,438.8 632.1,440.7 634.9,440.7 636.8,437.9 638.6,441.6 640.5,437.0 642.3,438.8 644.5,434.2 646.9,438.8 648.8,436.0 650.6,438.8 652.5,436.0 653.9,449.0 656.2,438.8 658.9,430.5 660.8,427.7 663.6,427.7 666.3,423.1 668.5,424.0 670.6,424.0 671.9,436.0 673.7,445.3 675.9,438.8 678.3,431.4 680.7,428.7 683.0,428.7 684.8,436.0 686.7,437.0 688.5,442.5 691.3,446.2 694.1,450.8 695.9,445.3 697.4,441.6 699.2,448.1 700.5,453.6 702.4,442.5 704.2,451.8 706.1,458.2 707.9,455.5 709.8,461.9 711.6,464.7 713.5,460.1 715.3,455.5 717.2,451.8 718.5,449.9 719.9,451.8 721.8,442.5 723.6,441.6 725.5,443.4 728.3,444.4 731.0,447.1 732.9,444.4 735.6,444.4 738.4,443.4 740.3,443.4 742.1,445.3 743.4,437.9 744.9,443.4 746.7,440.7 749.1,438.8 751.4,442.5 753.2,444.4 754.7,442.5 756.0,448.1 758.8,449.9 760.6,453.6 763.4,456.4 765.2,458.2 767.1,460.1 768.9,458.2 770.8,459.1 772.6,456.4 775.4,453.6 777.2,448.1 779.1,442.5 780.0,443.4 782.8,445.8 785.5,446.2 788.3,444.4 791.1,441.0 793.3,441.6 795.2,452.7 797.6,453.6 799.4,449.9 801.3,449.0 803.1,454.5 805.5,462.8 807.7,460.1 809.6,458.2 811.8,461.9 813.6,454.5 815.1,448.1 817.0,446.2 818.8,437.9 821.0,436.0 823.4,436.0 825.3,444.4 827.1,437.9 828.4,427.7 829.9,424.0 831.8,423.1 833.0,430.5 834.5,428.7 836.4,434.2 838.2,443.4 840.1,445.3 841.9,442.5 843.8,440.7 845.6,443.4 847.1,447.7 848.8,440.7 850.2,436.0 852.1,435.1 853.9,431.4 855.8,437.0 857.6,434.2 859.5,441.6 861.3,451.8 862.8,435.1 864.1,428.7 866.0,428.7 867.8,435.1 869.6,437.9 871.5,436.0 873.3,431.4 875.7,426.8 878.0,424.0 879.4,429.6 881.3,426.8 883.1,429.6 885.0,428.7 886.3,435.1 887.6,447.1 889.1,458.2 890.9,463.8 893.1,465.6 895.5,475.8 897.4,462.8 899.2,449.9 900.5,453.6 902.4,447.1 904.2,449.9 906.1,448.1 908.5,449.9 911.2,450.8 913.5,449.5 915.3,449.0 916.8,455.5 919.6,454.5 922.3,452.7 924.5,450.8 927.0,451.8 928.8,454.5 930.6,458.2 932.5,463.8 934.9,467.5 937.1,468.4 939.3,467.5 940.8,469.3 942.7,463.8 944.1,459.1 946.4,461.9 948.2,462.8 949.7,473.0 951.9,479.5 953.8,477.6 955.6,476.7 957.1,477.6 958.9,473.0 960.2,476.7 961.5,480.4 963.0,472.1 964.8,473.9 966.7,480.4 968.5,485.0 970.4,489.6 972.2,486.0 974.1,476.7 975.6,466.5 977.4,458.2 978.7,456.4 980.0,455.5 983.0,454.0 983.0,428.1 6.5,428.1"/>
<polygon clip-path="url(#os)" fill="#f9c4c9" fill-opacity="0.75" points="6.5,448.1 9.2,434.2 11.1,439.7 12.9,440.7 14.8,444.4 16.6,449.0 18.5,439.7 21.3,435.1 23.1,433.3 25.0,434.2 26.8,427.7 29.0,425.9 31.1,437.9 33.3,433.3 36.0,432.3 38.3,431.4 39.7,440.7 41.6,453.6 43.4,462.8 45.3,469.3 47.1,461.9 49.0,461.0 50.8,463.8 53.6,462.8 55.5,472.1 57.9,480.4 60.1,471.2 61.9,466.5 64.7,468.4 66.5,461.9 68.0,461.0 69.9,465.6 72.1,462.8 73.9,458.2 75.8,456.4 77.3,453.6 78.6,458.2 80.4,456.4 82.3,459.1 84.7,460.1 86.9,457.3 89.6,454.5 92.4,451.8 94.3,447.1 95.7,443.4 98.0,447.1 100.7,446.2 103.5,444.4 106.3,443.4 109.1,445.3 110.9,446.2 113.1,449.0 114.6,447.1 116.5,453.6 118.3,455.5 120.1,449.0 122.0,443.4 123.5,442.5 125.3,445.3 127.2,443.4 129.4,447.1 132.2,449.0 134.0,439.7 135.9,438.8 137.7,438.8 139.6,437.0 141.4,437.9 144.2,437.9 146.0,437.0 147.9,438.8 149.7,434.2 151.2,430.5 153.0,435.1 155.3,432.3 157.1,429.6 159.3,425.0 161.2,425.0 162.7,442.5 165.1,451.8 167.3,440.7 169.1,437.0 171.0,429.6 172.3,425.9 173.8,437.0 175.6,445.3 176.9,443.4 178.4,451.8 180.8,453.6 183.0,457.3 184.8,449.9 186.7,444.4 188.2,443.4 190.0,450.8 192.2,442.5 194.5,438.8 195.0,438.8 196.8,444.4 198.7,441.6 200.5,433.3 202.8,423.1 204.2,438.8 206.1,443.4 207.9,446.2 209.8,450.8 211.6,446.2 213.5,442.5 215.3,444.4 217.2,445.3 219.0,437.0 221.8,426.8 223.7,433.3 225.5,432.3 227.3,431.4 229.2,440.7 231.0,444.4 233.8,447.1 236.6,451.8 239.4,453.6 242.1,448.1 244.9,442.5 247.7,438.8 250.5,437.0 253.2,436.0 256.0,437.9 257.8,433.3 259.7,430.5 261.9,432.3 263.4,436.0 265.2,435.1 267.1,438.8 268.9,437.9 270.8,440.7 272.6,439.7 274.5,443.4 277.3,443.4 280.0,443.4 281.9,446.2 284.3,452.7 286.5,449.0 288.3,448.1 290.2,454.5 293.0,452.7 294.8,446.2 296.7,442.5 298.9,438.8 300.7,443.4 302.2,446.2 304.1,441.6 305.9,438.8 308.7,439.7 311.5,439.7 314.2,437.0 316.4,434.8 318.5,436.0 319.8,441.6 321.6,445.3 323.5,450.8 325.3,449.0 327.2,456.4 329.0,465.6 330.9,464.7 332.7,471.2 334.6,477.6 336.4,488.7 338.3,473.9 339.7,459.1 341.6,462.8 342.9,449.9 345.1,444.4 346.6,448.1 348.4,451.8 350.6,444.4 352.5,449.9 354.3,454.5 356.7,448.1 358.6,444.4 361.4,443.4 363.2,441.6 365.1,438.8 366.9,439.7 368.8,436.0 370.2,434.2 372.1,439.7 374.3,438.8 377.1,437.9 379.8,438.8 381.7,436.0 383.2,433.3 384.5,436.0 386.3,429.6 388.2,432.3 389.5,439.7 390.0,439.7 391.8,451.8 394.6,460.1 397.0,453.6 399.2,457.3 401.1,458.2 403.9,452.7 406.6,449.0 407.9,447.1 409.4,427.7 410.7,419.4 413.1,417.6 415.9,419.4 418.7,421.3 420.5,420.3 422.3,427.7 424.2,431.4 426.0,428.7 427.9,430.5 429.7,428.7 432.5,428.7 435.3,428.1 438.1,427.7 440.8,430.5 442.3,432.3 444.0,428.7 445.5,436.0 446.9,442.5 449.1,437.9 451.0,439.7 452.8,444.4 454.7,442.5 456.5,446.2 459.3,445.3 462.1,450.8 463.9,447.1 466.7,438.8 469.5,438.8 472.3,436.0 475.0,433.6 477.8,438.8 480.6,440.7 482.4,439.7 484.6,436.0 486.5,444.4 488.3,450.8 490.4,452.7 491.7,444.4 493.9,443.4 495.4,439.7 497.2,429.6 499.1,421.3 500.9,415.7 502.2,413.3 503.1,424.0 504.2,436.0 506.1,430.5 508.3,434.2 509.8,438.8 511.3,436.0 513.5,444.4 515.3,449.9 517.2,459.1 519.4,457.3 521.6,460.1 524.0,460.1 525.9,452.7 527.7,445.3 529.6,441.6 531.4,445.3 533.3,448.1 535.1,445.3 537.9,444.0 540.1,443.4 541.9,455.5 543.8,468.4 545.3,476.7 546.7,463.8 548.6,469.3 550.4,465.6 552.7,462.8 554.9,466.5 556.4,469.3 559.1,471.2 561.5,464.7 563.8,470.2 565.6,472.1 567.4,470.2 570.2,470.2 572.1,473.0 574.8,474.9 577.6,474.3 580.4,473.0 582.2,473.0 584.5,468.4 585.0,469.3 587.8,471.2 590.2,474.9 591.5,446.2 592.4,435.1 595.2,434.2 597.9,434.2 600.7,431.4 603.1,428.7 605.3,433.3 608.1,437.9 610.0,442.5 612.7,444.4 614.6,439.7 616.8,449.0 619.2,445.3 622.0,442.5 624.7,438.8 627.1,436.0 629.4,438.8 632.1,440.7 634.9,440.7 636.8,437.9 638.6,441.6 640.5,437.0 642.3,438.8 644.5,434.2 646.9,438.8 648.8,436.0 650.6,438.8 652.5,436.0 653.9,449.0 656.2,438.8 658.9,430.5 660.8,427.7 663.6,427.7 666.3,423.1 668.5,424.0 670.6,424.0 671.9,436.0 673.7,445.3 675.9,438.8 678.3,431.4 680.7,428.7 683.0,428.7 684.8,436.0 686.7,437.0 688.5,442.5 691.3,446.2 694.1,450.8 695.9,445.3 697.4,441.6 699.2,448.1 700.5,453.6 702.4,442.5 704.2,451.8 706.1,458.2 707.9,455.5 709.8,461.9 711.6,464.7 713.5,460.1 715.3,455.5 717.2,451.8 718.5,449.9 719.9,451.8 721.8,442.5 723.6,441.6 725.5,443.4 728.3,444.4 731.0,447.1 732.9,444.4 735.6,444.4 738.4,443.4 740.3,443.4 742.1,445.3 743.4,437.9 744.9,443.4 746.7,440.7 749.1,438.8 751.4,442.5 753.2,444.4 754.7,442.5 756.0,448.1 758.8,449.9 760.6,453.6 763.4,456.4 765.2,458.2 767.1,460.1 768.9,458.2 770.8,459.1 772.6,456.4 775.4,453.6 777.2,448.1 779.1,442.5 780.0,443.4 782.8,445.8 785.5,446.2 788.3,444.4 791.1,441.0 793.3,441.6 795.2,452.7 797.6,453.6 799.4,449.9 801.3,449.0 803.1,454.5 805.5,462.8 807.7,460.1 809.6,458.2 811.8,461.9 813.6,454.5 815.1,448.1 817.0,446.2 818.8,437.9 821.0,436.0 823.4,436.0 825.3,444.4 827.1,437.9 828.4,427.7 829.9,424.0 831.8,423.1 833.0,430.5 834.5,428.7 836.4,434.2 838.2,443.4 840.1,445.3 841.9,442.5 843.8,440.7 845.6,443.4 847.1,447.7 848.8,440.7 850.2,436.0 852.1,435.1 853.9,431.4 855.8,437.0 857.6,434.2 859.5,441.6 861.3,451.8 862.8,435.1 864.1,428.7 866.0,428.7 867.8,435.1 869.6,437.9 871.5,436.0 873.3,431.4 875.7,426.8 878.0,424.0 879.4,429.6 881.3,426.8 883.1,429.6 885.0,428.7 886.3,435.1 887.6,447.1 889.1,458.2 890.9,463.8 893.1,465.6 895.5,475.8 897.4,462.8 899.2,449.9 900.5,453.6 902.4,447.1 904.2,449.9 906.1,448.1 908.5,449.9 911.2,450.8 913.5,449.5 915.3,449.0 916.8,455.5 919.6,454.5 922.3,452.7 924.5,450.8 927.0,451.8 928.8,454.5 930.6,458.2 932.5,463.8 934.9,467.5 937.1,468.4 939.3,467.5 940.8,469.3 942.7,463.8 944.1,459.1 946.4,461.9 948.2,462.8 949.7,473.0 951.9,479.5 953.8,477.6 955.6,476.7 957.1,477.6 958.9,473.0 960.2,476.7 961.5,480.4 963.0,472.1 964.8,473.9 966.7,480.4 968.5,485.0 970.4,489.6 972.2,486.0 974.1,476.7 975.6,466.5 977.4,458.2 978.7,456.4 980.0,455.5 983.0,454.0 983.0,476.2 6.5,476.2"/>
<polyline points="6.5,464.7 11.1,457.3 15.7,449.9 20.3,443.4 24.0,439.7 28.7,437.9 33.3,436.0 37.9,435.1 42.5,436.0 47.1,440.7 51.8,447.1 56.4,454.5 61.0,462.8 65.6,466.9 70.2,467.5 74.9,466.9 79.5,464.7 84.1,461.9 88.7,459.1 93.3,457.3 98.0,454.5 102.6,452.7 107.2,450.8 111.8,448.1 116.5,447.1 121.1,447.1 125.7,447.1 130.3,447.1 134.9,446.2 139.6,444.4 144.2,441.6 148.8,440.7 153.4,438.8 157.1,437.0 160.8,434.2 164.5,435.1 168.2,436.0 172.8,435.1 177.4,437.0 182.1,441.6 186.7,444.4 191.3,445.3 195.0,445.3 198.7,447.1 202.4,445.3 206.1,443.4 209.8,441.6 213.5,441.6 218.1,440.7 222.7,439.2 227.3,439.2 232.0,439.7 236.6,440.3 241.2,441.6 245.8,443.4 250.5,444.7 255.1,444.4 259.7,442.5 264.3,438.8 268.9,437.0 273.6,437.0 278.2,437.9 282.8,439.7 287.4,442.5 292.0,445.3 296.7,447.1 301.3,447.1 305.9,446.2 310.5,444.4 315.1,441.6 319.8,439.7 324.4,440.7 329.0,443.4 333.6,449.0 338.3,455.5 342.9,459.1 347.5,461.0 352.1,460.1 356.7,457.3 361.4,449.9 366.0,446.2 370.6,444.4 375.2,443.4 379.8,440.7 384.5,438.8 389.1,437.9 390.0,437.9 394.6,441.6 399.2,445.3 403.9,448.1 408.5,449.0 413.1,446.2 417.7,440.7 422.3,434.2 427.0,428.7 431.6,425.5 434.4,424.6 438.1,425.9 442.7,428.7 447.3,431.4 451.9,433.3 456.5,436.0 461.2,438.8 465.8,441.6 469.5,442.9 474.1,442.5 478.7,441.6 483.3,440.3 488.0,439.2 491.7,440.3 496.3,440.7 500.9,437.9 505.5,436.0 510.1,434.8 513.8,433.8 517.5,435.1 521.2,438.8 524.9,443.4 528.6,447.1 533.3,449.9 537.9,450.8 542.5,451.8 547.1,453.6 551.7,456.4 556.4,460.1 561.0,463.8 565.6,467.5 570.2,468.8 574.8,469.9 579.5,471.2 584.1,471.7 585.0,472.1 589.6,471.2 594.2,464.7 598.9,457.3 603.5,449.9 608.1,443.4 612.7,437.9 614.9,436.0 618.3,437.9 622.0,438.8 626.6,440.7 631.2,441.6 635.8,441.0 640.5,439.7 645.1,438.8 649.7,438.3 654.3,438.8 658.9,437.9 663.6,435.1 668.2,433.3 672.8,432.9 677.4,432.9 681.1,430.5 684.8,431.4 688.5,434.2 692.2,437.0 695.9,438.8 699.6,439.7 704.2,443.4 707.9,448.1 711.6,450.8 715.3,452.7 719.0,453.6 723.6,453.6 728.3,452.7 732.9,450.3 737.5,447.1 742.1,445.3 746.7,443.4 751.4,442.9 756.0,442.9 760.6,444.4 765.2,447.1 769.8,450.8 774.5,453.2 779.1,453.6 780.0,454.0 784.6,452.7 789.2,449.9 793.9,447.7 798.5,446.2 801.3,446.2 805.0,449.0 808.7,451.4 812.3,453.2 816.0,454.5 819.7,453.6 823.4,450.8 827.1,449.0 830.8,445.3 834.5,439.7 838.2,437.0 841.9,436.0 845.6,436.6 849.3,437.0 853.0,437.5 856.7,438.3 860.4,439.2 864.1,438.8 867.8,437.9 871.5,436.0 875.2,435.1 878.9,434.2 882.6,433.3 885.4,432.3 888.1,434.2 891.8,438.8 895.5,444.0 899.2,448.1 902.9,450.8 906.6,453.6 910.3,455.5 914.0,455.5 917.7,453.6 921.4,451.8 925.1,450.8 928.8,452.1 932.5,454.5 936.2,456.4 939.9,458.8 943.6,460.1 947.3,461.9 951.0,465.6 954.7,468.4 958.4,469.9 962.1,470.8 965.8,472.1 968.5,475.8 971.3,478.6 974.1,479.9 976.9,477.6 980.0,474.9 983.0,472.8" fill="none" stroke="#f6e48a" stroke-width="1.3" stroke-linejoin="round"/>
<polyline points="6.5,448.1 9.2,434.2 11.1,439.7 12.9,440.7 14.8,444.4 16.6,449.0 18.5,439.7 21.3,435.1 23.1,433.3 25.0,434.2 26.8,427.7 29.0,425.9 31.1,437.9 33.3,433.3 36.0,432.3 38.3,431.4 39.7,440.7 41.6,453.6 43.4,462.8 45.3,469.3 47.1,461.9 49.0,461.0 50.8,463.8 53.6,462.8 55.5,472.1 57.9,480.4 60.1,471.2 61.9,466.5 64.7,468.4 66.5,461.9 68.0,461.0 69.9,465.6 72.1,462.8 73.9,458.2 75.8,456.4 77.3,453.6 78.6,458.2 80.4,456.4 82.3,459.1 84.7,460.1 86.9,457.3 89.6,454.5 92.4,451.8 94.3,447.1 95.7,443.4 98.0,447.1 100.7,446.2 103.5,444.4 106.3,443.4 109.1,445.3 110.9,446.2 113.1,449.0 114.6,447.1 116.5,453.6 118.3,455.5 120.1,449.0 122.0,443.4 123.5,442.5 125.3,445.3 127.2,443.4 129.4,447.1 132.2,449.0 134.0,439.7 135.9,438.8 137.7,438.8 139.6,437.0 141.4,437.9 144.2,437.9 146.0,437.0 147.9,438.8 149.7,434.2 151.2,430.5 153.0,435.1 155.3,432.3 157.1,429.6 159.3,425.0 161.2,425.0 162.7,442.5 165.1,451.8 167.3,440.7 169.1,437.0 171.0,429.6 172.3,425.9 173.8,437.0 175.6,445.3 176.9,443.4 178.4,451.8 180.8,453.6 183.0,457.3 184.8,449.9 186.7,444.4 188.2,443.4 190.0,450.8 192.2,442.5 194.5,438.8 195.0,438.8 196.8,444.4 198.7,441.6 200.5,433.3 202.8,423.1 204.2,438.8 206.1,443.4 207.9,446.2 209.8,450.8 211.6,446.2 213.5,442.5 215.3,444.4 217.2,445.3 219.0,437.0 221.8,426.8 223.7,433.3 225.5,432.3 227.3,431.4 229.2,440.7 231.0,444.4 233.8,447.1 236.6,451.8 239.4,453.6 242.1,448.1 244.9,442.5 247.7,438.8 250.5,437.0 253.2,436.0 256.0,437.9 257.8,433.3 259.7,430.5 261.9,432.3 263.4,436.0 265.2,435.1 267.1,438.8 268.9,437.9 270.8,440.7 272.6,439.7 274.5,443.4 277.3,443.4 280.0,443.4 281.9,446.2 284.3,452.7 286.5,449.0 288.3,448.1 290.2,454.5 293.0,452.7 294.8,446.2 296.7,442.5 298.9,438.8 300.7,443.4 302.2,446.2 304.1,441.6 305.9,438.8 308.7,439.7 311.5,439.7 314.2,437.0 316.4,434.8 318.5,436.0 319.8,441.6 321.6,445.3 323.5,450.8 325.3,449.0 327.2,456.4 329.0,465.6 330.9,464.7 332.7,471.2 334.6,477.6 336.4,488.7 338.3,473.9 339.7,459.1 341.6,462.8 342.9,449.9 345.1,444.4 346.6,448.1 348.4,451.8 350.6,444.4 352.5,449.9 354.3,454.5 356.7,448.1 358.6,444.4 361.4,443.4 363.2,441.6 365.1,438.8 366.9,439.7 368.8,436.0 370.2,434.2 372.1,439.7 374.3,438.8 377.1,437.9 379.8,438.8 381.7,436.0 383.2,433.3 384.5,436.0 386.3,429.6 388.2,432.3 389.5,439.7 390.0,439.7 391.8,451.8 394.6,460.1 397.0,453.6 399.2,457.3 401.1,458.2 403.9,452.7 406.6,449.0 407.9,447.1 409.4,427.7 410.7,419.4 413.1,417.6 415.9,419.4 418.7,421.3 420.5,420.3 422.3,427.7 424.2,431.4 426.0,428.7 427.9,430.5 429.7,428.7 432.5,428.7 435.3,428.1 438.1,427.7 440.8,430.5 442.3,432.3 444.0,428.7 445.5,436.0 446.9,442.5 449.1,437.9 451.0,439.7 452.8,444.4 454.7,442.5 456.5,446.2 459.3,445.3 462.1,450.8 463.9,447.1 466.7,438.8 469.5,438.8 472.3,436.0 475.0,433.6 477.8,438.8 480.6,440.7 482.4,439.7 484.6,436.0 486.5,444.4 488.3,450.8 490.4,452.7 491.7,444.4 493.9,443.4 495.4,439.7 497.2,429.6 499.1,421.3 500.9,415.7 502.2,413.3 503.1,424.0 504.2,436.0 506.1,430.5 508.3,434.2 509.8,438.8 511.3,436.0 513.5,444.4 515.3,449.9 517.2,459.1 519.4,457.3 521.6,460.1 524.0,460.1 525.9,452.7 527.7,445.3 529.6,441.6 531.4,445.3 533.3,448.1 535.1,445.3 537.9,444.0 540.1,443.4 541.9,455.5 543.8,468.4 545.3,476.7 546.7,463.8 548.6,469.3 550.4,465.6 552.7,462.8 554.9,466.5 556.4,469.3 559.1,471.2 561.5,464.7 563.8,470.2 565.6,472.1 567.4,470.2 570.2,470.2 572.1,473.0 574.8,474.9 577.6,474.3 580.4,473.0 582.2,473.0 584.5,468.4 585.0,469.3 587.8,471.2 590.2,474.9 591.5,446.2 592.4,435.1 595.2,434.2 597.9,434.2 600.7,431.4 603.1,428.7 605.3,433.3 608.1,437.9 610.0,442.5 612.7,444.4 614.6,439.7 616.8,449.0 619.2,445.3 622.0,442.5 624.7,438.8 627.1,436.0 629.4,438.8 632.1,440.7 634.9,440.7 636.8,437.9 638.6,441.6 640.5,437.0 642.3,438.8 644.5,434.2 646.9,438.8 648.8,436.0 650.6,438.8 652.5,436.0 653.9,449.0 656.2,438.8 658.9,430.5 660.8,427.7 663.6,427.7 666.3,423.1 668.5,424.0 670.6,424.0 671.9,436.0 673.7,445.3 675.9,438.8 678.3,431.4 680.7,428.7 683.0,428.7 684.8,436.0 686.7,437.0 688.5,442.5 691.3,446.2 694.1,450.8 695.9,445.3 697.4,441.6 699.2,448.1 700.5,453.6 702.4,442.5 704.2,451.8 706.1,458.2 707.9,455.5 709.8,461.9 711.6,464.7 713.5,460.1 715.3,455.5 717.2,451.8 718.5,449.9 719.9,451.8 721.8,442.5 723.6,441.6 725.5,443.4 728.3,444.4 731.0,447.1 732.9,444.4 735.6,444.4 738.4,443.4 740.3,443.4 742.1,445.3 743.4,437.9 744.9,443.4 746.7,440.7 749.1,438.8 751.4,442.5 753.2,444.4 754.7,442.5 756.0,448.1 758.8,449.9 760.6,453.6 763.4,456.4 765.2,458.2 767.1,460.1 768.9,458.2 770.8,459.1 772.6,456.4 775.4,453.6 777.2,448.1 779.1,442.5 780.0,443.4 782.8,445.8 785.5,446.2 788.3,444.4 791.1,441.0 793.3,441.6 795.2,452.7 797.6,453.6 799.4,449.9 801.3,449.0 803.1,454.5 805.5,462.8 807.7,460.1 809.6,458.2 811.8,461.9 813.6,454.5 815.1,448.1 817.0,446.2 818.8,437.9 821.0,436.0 823.4,436.0 825.3,444.4 827.1,437.9 828.4,427.7 829.9,424.0 831.8,423.1 833.0,430.5 834.5,428.7 836.4,434.2 838.2,443.4 840.1,445.3 841.9,442.5 843.8,440.7 845.6,443.4 847.1,447.7 848.8,440.7 850.2,436.0 852.1,435.1 853.9,431.4 855.8,437.0 857.6,434.2 859.5,441.6 861.3,451.8 862.8,435.1 864.1,428.7 866.0,428.7 867.8,435.1 869.6,437.9 871.5,436.0 873.3,431.4 875.7,426.8 878.0,424.0 879.4,429.6 881.3,426.8 883.1,429.6 885.0,428.7 886.3,435.1 887.6,447.1 889.1,458.2 890.9,463.8 893.1,465.6 895.5,475.8 897.4,462.8 899.2,449.9 900.5,453.6 902.4,447.1 904.2,449.9 906.1,448.1 908.5,449.9 911.2,450.8 913.5,449.5 915.3,449.0 916.8,455.5 919.6,454.5 922.3,452.7 924.5,450.8 927.0,451.8 928.8,454.5 930.6,458.2 932.5,463.8 934.9,467.5 937.1,468.4 939.3,467.5 940.8,469.3 942.7,463.8 944.1,459.1 946.4,461.9 948.2,462.8 949.7,473.0 951.9,479.5 953.8,477.6 955.6,476.7 957.1,477.6 958.9,473.0 960.2,476.7 961.5,480.4 963.0,472.1 964.8,473.9 966.7,480.4 968.5,485.0 970.4,489.6 972.2,486.0 974.1,476.7 975.6,466.5 977.4,458.2 978.7,456.4 980.0,455.5 983.0,454.0" fill="none" stroke="#9373d3" stroke-width="0.85" stroke-opacity="0.92" stroke-linejoin="round"/>
<ellipse cx="969.1" cy="480.8" rx="21.6" ry="16.6" fill="none" stroke="#ee3a4c" stroke-width="1.3"/>
<g font-size="7.6" fill="#2a2e39">
<text x="11.6" y="28.9" textLength="120.4" lengthAdjust="spacingAndGlyphs">Light Crude Oil Futures, 15, NYMEX</text>
<text x="137" y="28.9" textLength="23.69999999999999" lengthAdjust="spacingAndGlyphs">O<tspan fill="#109a85">71.12</tspan></text>
<text x="165.5" y="28.9" textLength="23.5" lengthAdjust="spacingAndGlyphs">H<tspan fill="#109a85">71.20</tspan></text>
<text x="194" y="28.9" textLength="22.80000000000001" lengthAdjust="spacingAndGlyphs">L<tspan fill="#109a85">71.06</tspan></text>
<text x="221.5" y="28.9" textLength="22.900000000000006" lengthAdjust="spacingAndGlyphs">C<tspan fill="#109a85">71.12</tspan></text>
<text x="249.2" y="28.9" fill="#109a85" textLength="42.4" lengthAdjust="spacingAndGlyphs">0.00 (0.00%)</text>
</g>
<g font-size="7.6">
<text x="11.6" y="416" fill="#2a2e39" textLength="10.2" lengthAdjust="spacingAndGlyphs">RSI</text>
<text x="26.5" y="416" fill="#8a63d2">48.05</text>
<text x="50" y="416" fill="#f2d94e">32.85</text>
<text x="73.1" y="416" fill="#2a2e39" textLength="4.6" lengthAdjust="spacingAndGlyphs">∅</text>
<text x="82.7" y="416" fill="#2a2e39" textLength="4.6" lengthAdjust="spacingAndGlyphs">∅</text>
<text x="93.0" y="416" fill="#2a2e39" textLength="4.6" lengthAdjust="spacingAndGlyphs">∅</text>
<text x="103.0" y="416" fill="#2a2e39" textLength="4.6" lengthAdjust="spacingAndGlyphs">∅</text>
</g>
<g font-size="8.6" fill="#363a45" text-anchor="middle">
<text x="1146.7" y="66.2">73.00</text>
<text x="1146.7" y="115.8">72.00</text>
<text x="1146.7" y="140.7">71.50</text>
<text x="1146.7" y="190.2">70.50</text>
<text x="1146.7" y="215.1">70.00</text>
<text x="1146.7" y="239.8">69.50</text>
<text x="1146.7" y="264.7">69.00</text>
<text x="1146.7" y="289.5">68.50</text>
<text x="1146.7" y="314.2">68.00</text>
<text x="1146.7" y="339.1">67.50</text>
<text x="1146.7" y="363.9">67.00</text>
<text x="1146.7" y="91.0">72.50</text>
<text x="1146.7" y="419.1">80.00</text>
<text x="1146.7" y="443.2">60.00</text>
<text x="1146.7" y="467.3">40.00</text>
<text x="1146.7" y="491.4">20.00</text>
</g>
<rect x="1132.3" y="20.4" width="28.8" height="31.3" rx="2.5" fill="#fff" stroke="#e3e6ee" stroke-width="1"/>
<g font-size="8.4" fill="#363a45" text-anchor="middle"><text x="1145.4" y="31.4" textLength="15.8" lengthAdjust="spacingAndGlyphs">USD</text><text x="1145.4" y="47.5" textLength="13.4" lengthAdjust="spacingAndGlyphs">BLL</text></g>
<rect x="1105.8" y="73.3" width="55.3" height="13.2" fill="#e3effd"/>
<line x1="1129.4" y1="73.3" x2="1129.4" y2="86.5" stroke="#fff" stroke-width="1"/>
<text x="1117.2" y="82.2" font-size="8.3" fill="#2a2e39" text-anchor="middle" font-weight="bold">High</text>
<text x="1146.7" y="82.8" font-size="8.6" fill="#2a2e39" text-anchor="middle">72.67</text>
<rect x="1107" y="377" width="54.1" height="12.2" fill="#e3effd"/>
<line x1="1129.4" y1="377" x2="1129.4" y2="389.2" stroke="#fff" stroke-width="1"/>
<text x="1118" y="386" font-size="8.4" fill="#2a2e39" text-anchor="middle">Low</text>
<text x="1146.7" y="386.2" font-size="8.6" fill="#2a2e39" text-anchor="middle">66.72</text>
<rect x="1129.9" y="89.4" width="31.2" height="12.8" fill="#0a0a0a"/>
<text x="1146" y="98.9" font-size="8.6" fill="#fff" text-anchor="middle" font-weight="bold">72.35</text>
<rect x="1129.9" y="192.4" width="31.2" height="12.4" fill="#0a0a0a"/>
<text x="1146" y="201.7" font-size="8.6" fill="#fff" text-anchor="middle" font-weight="bold">70.28</text>
<rect x="1129.9" y="364" width="31.2" height="11.8" fill="#0a0a0a"/>
<text x="1146" y="373.0" font-size="8.6" fill="#fff" text-anchor="middle" font-weight="bold">66.82</text>
<rect x="1129.9" y="149.6" width="31.2" height="23.6" fill="#109a85"/>
<text x="1146" y="160" font-size="8.6" fill="#fff" text-anchor="middle" font-weight="bold">71.12</text>
<text x="1146" y="170.2" font-size="8.4" fill="#d9f2ee" text-anchor="middle">04:57</text>
<rect x="1129.9" y="447.8" width="31.2" height="13.4" fill="#7e57c2"/>
<text x="1146" y="457.7" font-size="8.6" fill="#fff" text-anchor="middle">48.05</text>
<rect x="1129.9" y="466.8" width="31.2" height="13.1" fill="#fde93a"/>
<text x="1146" y="476.5" font-size="8.6" fill="#2a2e39" text-anchor="middle">32.85</text>
<g font-size="8.6" fill="#363a45" text-anchor="middle">
<text x="27.5" y="511">12:00</text>
<text x="106" y="511">30</text>
<text x="192" y="511">12:00</text>
<text x="269.8" y="511">31</text>
<text x="356.5" y="511">12:00</text>
<text x="435.3" y="511" font-weight="bold">Nov</text>
<text x="520.8" y="511">12:00</text>
<text x="591.7" y="511">4</text>
<text x="678.1" y="511">12:00</text>
<text x="755.9" y="511">5</text>
<text x="842" y="511">12:00</text>
<text x="920.7" y="511">6</text>
<text x="1006.5" y="511">12:00</text>
<text x="1084.8" y="511">7</text>
</g>
<g transform="translate(6.4 524.75) scale(0.338)" fill="#131722">
<path d="M14 22H7V11H0V4h14v18z"/><circle cx="20" cy="8" r="4"/><path d="M28 22h-8l7.5-18h8L28 22z"/>
</g>
<text x="21.8" y="532.6" font-size="8.4" fill="#454954" textLength="44" lengthAdjust="spacingAndGlyphs">TradingView</text>
</svg>
</body></html>
